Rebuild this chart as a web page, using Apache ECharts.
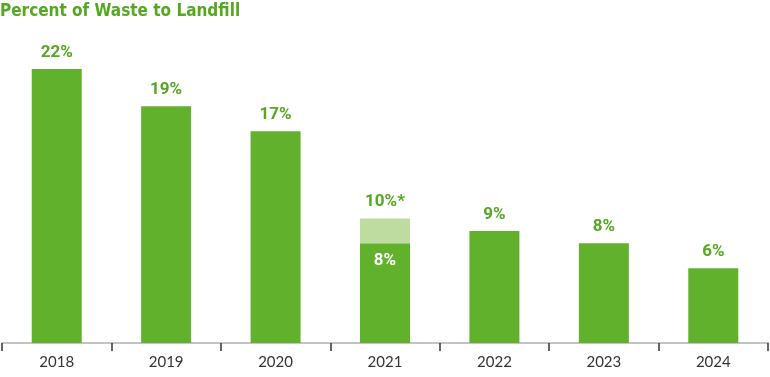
<!DOCTYPE html>
<html>
<head>
<meta charset="utf-8">
<script src="https://cdn.jsdelivr.net/npm/echarts@6/dist/echarts.min.js"></script>
<style>
  html, body { margin: 0; padding: 0; background: #fff; }
  #chart { width: 770px; height: 377px; }
</style>
</head>
<body>
<div id="chart"></div>
<script>
const years = ['2018', '2019', '2020', '2021', '2022', '2023', '2024']
const landfillPct = [22, 19, 17, 8, 9, 8, 6]
// 2021 extra portion, shown lighter (reported 10%*)
const extraPct = [0, 0, 0, 2, 0, 0, 0]
const topLabels = ['22%', '19%', '17%', '', '9%', '8%', '6%']
const extraLabels = ['', '', '', '10%*', '', '', '']

const green = '#62b12c'
const lightGreen = '#bedc9f'
const labelGreen = '#55a81f'

const chart = echarts.init(document.getElementById('chart'))

chart.setOption({
  animation: false,
  title: {
    text: 'Percent of Waste to Landfill',
    left: 0,
    top: 3,
    padding: 0,
    textStyle: {
      color: labelGreen,
      fontSize: 17,
      fontWeight: 'bold',
      fontFamily: 'DejaVu Sans Condensed'
    }
  },
  grid: { left: 2, right: 2, top: 44, bottom: 34 },
  xAxis: {
    type: 'category',
    data: years,
    axisLine: { lineStyle: { color: '#b0b0b0', width: 1.5 } },
    axisTick: { show: true, length: 8, lineStyle: { color: '#333', width: 1.5 } },
    axisLabel: { color: '#333', fontSize: 15, margin: 12, fontFamily: 'Lato' }
  },
  yAxis: {
    type: 'value',
    min: 0,
    max: 24,
    show: false,
    splitLine: { show: false }
  },
  series: [
    {
      type: 'bar',
      stack: 'total',
      barWidth: 50,
      itemStyle: { color: green },
      data: landfillPct.map((v, i) => {
        if (extraPct[i] > 0) {
          return {
            value: v,
            label: {
              show: true,
              position: 'insideTop',
              distance: 9,
              color: '#fff',
              fontSize: 17,
              fontWeight: 'bold',
              fontFamily: 'Roboto',
              formatter: v + '%'
            }
          }
        }
        return v
      }),
      label: {
        show: true,
        position: 'top',
        distance: 8,
        color: labelGreen,
        fontSize: 17,
        fontWeight: 'bold',
        fontFamily: 'Roboto',
        formatter: p => topLabels[p.dataIndex]
      }
    },
    {
      type: 'bar',
      stack: 'total',
      barWidth: 50,
      itemStyle: { color: lightGreen },
      data: extraPct,
      label: {
        show: true,
        position: 'top',
        distance: 8,
        color: labelGreen,
        fontSize: 17,
        fontWeight: 'bold',
        fontFamily: 'Roboto',
        formatter: p => extraLabels[p.dataIndex]
      }
    }
  ]
})
</script>
</body>
</html>
